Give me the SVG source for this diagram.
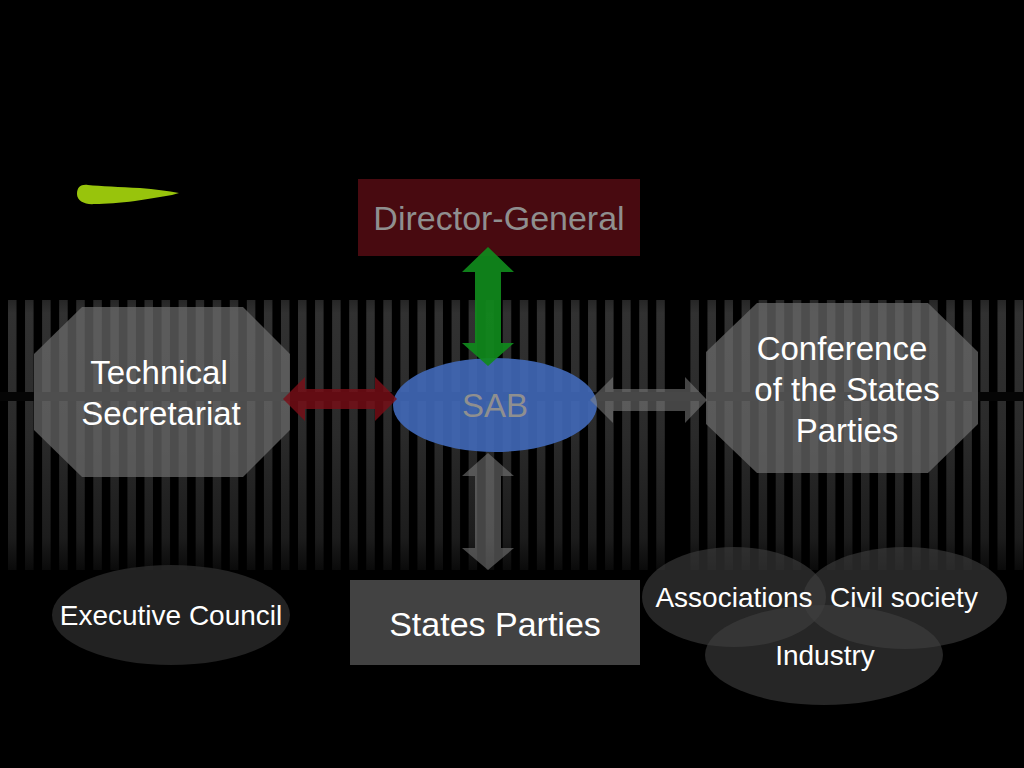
<svg xmlns="http://www.w3.org/2000/svg" width="1024" height="768" viewBox="0 0 1024 768">
  <defs>
    <linearGradient id="stripeGrad" x1="0" y1="300" x2="0" y2="570" gradientUnits="userSpaceOnUse">
      <stop offset="0" stop-color="#262626"/>
      <stop offset="0.05" stop-color="#313131"/>
      <stop offset="0.5" stop-color="#2a2a2a"/>
      <stop offset="0.88" stop-color="#1c1c1c"/>
      <stop offset="1" stop-color="#0a0a0a"/>
    </linearGradient>
    <pattern id="gaps" x="8" y="0" width="17.06" height="768" patternUnits="userSpaceOnUse">
      <rect x="8.5" y="0" width="8.56" height="768" fill="#000"/>
    </pattern>
    <style>
      .lbl { font-family: "Liberation Sans", Arial, sans-serif; text-anchor: middle; }
      .white { fill: #ffffff; }
      .dim { fill: #8f8f8f; }
      .big { font-size: 33px; }
      .mid { font-size: 28px; }
      .oct { fill: #6e6e6e; fill-opacity: 0.7; }
      .venn { fill: #404040; fill-opacity: 0.6; }
      .grayArrow { fill: #8a8a8a; fill-opacity: 0.5; }
    </style>
  </defs>

  <rect x="0" y="0" width="1024" height="768" fill="#000"/>

  <!-- striped background band -->
  <g id="background">
    <rect x="0" y="300" width="1024" height="270" fill="url(#stripeGrad)"/>
    <rect x="0" y="300" width="1024" height="270" fill="url(#gaps)"/>
    <rect x="0" y="300" width="8" height="270" fill="#000"/>
    <rect x="673" y="300" width="9" height="270" fill="#000"/>
    <rect x="0" y="392" width="1024" height="9" fill="#050505"/>
  </g>

  <!-- green brush stroke -->
  <path id="brush" d="M77,194 C77,187 81,184 88,185 C100,186 120,187 140,188 C155,189 168,191 179,193 L172,195 C160,197 148,199 135,201 C120,203 105,204 95,204 C85,205 77,201 77,194 Z" fill="#98c40c"/>

  <g id="director-general">
    <rect x="358" y="179" width="282" height="77" fill="#480a10"/>
    <text class="lbl dim" style="font-size:34px" x="499" y="230">Director-General</text>
  </g>

  <g id="technical-secretariat">
    <polygon class="oct" points="82,307 243,307 290,354 290,430 243,477 82,477 34,430 34,354"/>
    <text class="lbl white big" x="159" y="384">Technical</text>
    <text class="lbl white big" x="161" y="425">Secretariat</text>
  </g>

  <g id="conference">
    <polygon class="oct" points="757,303 928,303 978,352 978,424 928,473 757,473 706,424 706,352"/>
    <text class="lbl white big" x="842" y="360">Conference</text>
    <text class="lbl white big" x="847" y="401">of the States</text>
    <text class="lbl white big" x="847" y="442">Parties</text>
  </g>

  <g id="sab">
    <ellipse cx="495" cy="405" rx="102" ry="47" fill="#4169b9" fill-opacity="0.9"/>
    <text class="lbl dim big" x="495" y="417">SAB</text>
  </g>

  <g id="executive-council">
    <ellipse cx="171" cy="615" rx="119" ry="50" fill="#2a2a2a" fill-opacity="0.8"/>
    <text class="lbl white mid" x="171" y="625">Executive Council</text>
  </g>

  <g id="states-parties">
    <rect x="350" y="580" width="290" height="85" fill="#424242"/>
    <text class="lbl white" style="font-size:34px" x="495" y="636">States Parties</text>
  </g>

  <g id="associations">
    <ellipse class="venn" cx="734" cy="597" rx="92" ry="50"/>
  </g>
  <g id="civil-society">
    <ellipse class="venn" cx="905" cy="598" rx="102" ry="51"/>
  </g>
  <g id="industry">
    <ellipse class="venn" cx="824" cy="655" rx="119" ry="50"/>
  </g>
  <g id="venn-labels">
    <text class="lbl white mid" x="734" y="607">Associations</text>
    <text class="lbl white mid" x="904" y="607">Civil society</text>
    <text class="lbl white mid" x="825" y="665">Industry</text>
  </g>

  <g id="connectors">
    <polygon fill="#7a0e17" fill-opacity="0.8" points="283,399 305,377 305,389 375,389 375,377 397,399 375,421 375,409 305,409 305,421"/>
    <polygon class="grayArrow" points="590,400 613,377 613,389 685,389 685,377 707,400 685,423 685,411 613,411 613,423"/>
    <polygon class="grayArrow" points="488,453 514,476 501,476 501,548 514,548 488,570 462,548 475,548 475,476 462,476"/>
    <polygon fill="#108a1c" fill-opacity="0.92" points="488,247 514,272 501,272 501,343 514,343 488,366 462,343 475,343 475,272 462,272"/>
  </g>
</svg>
